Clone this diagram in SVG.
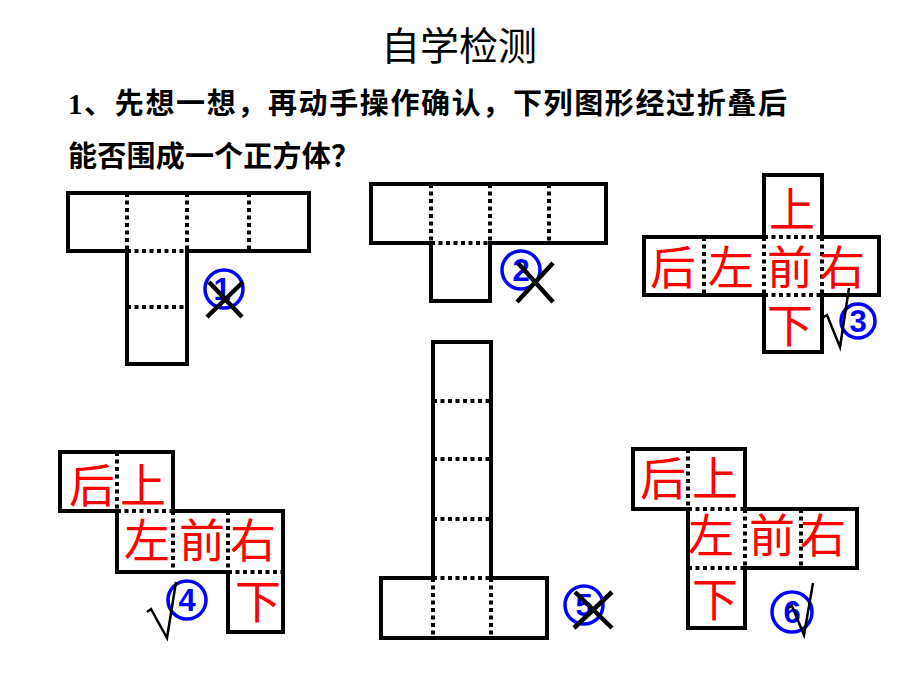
<svg xmlns="http://www.w3.org/2000/svg" width="920" height="690" viewBox="0 0 920 690">
<style>
.o{fill:none;stroke:#000;stroke-width:4;stroke-linejoin:miter}
.d{fill:none;stroke:#000;stroke-width:4;stroke-dasharray:4 3.5}
.f{font-family:"Noto Sans CJK SC","Noto Sans",sans-serif;font-size:46px;fill:#FF0000;text-anchor:middle}
.c{fill:none;stroke:#0000FF;stroke-width:3.5}
.n{font-family:"Liberation Sans","Noto Sans",sans-serif;font-weight:bold;font-size:31px;fill:#0000FF;text-anchor:middle}
.x{stroke:#000;stroke-width:4.5;stroke-linecap:butt}
.v{fill:none;stroke:#000;stroke-width:2.5;stroke-linejoin:miter}
</style>
<rect width="920" height="690" fill="#fff"/>
<g id="title">
<text x="459" y="60" font-family="Noto Sans CJK SC,sans-serif" font-size="39" text-anchor="middle" fill="#000">自学检测</text>
</g>
<g id="question">
<text x="68" y="114" font-family="Noto Sans CJK SC,sans-serif" font-weight="bold" font-size="29" fill="#000" textLength="719" lengthAdjust="spacing"><tspan font-family="Liberation Serif,serif">1</tspan>、先想一想，再动手操作确认，下列图形经过折叠后</text>
<text x="68" y="167" font-family="Noto Sans CJK SC,sans-serif" font-weight="bold" font-size="29" fill="#000" textLength="292" lengthAdjust="spacing">能否围成一个正方体？</text>
</g>
<g id="net1">
<path class="o" d="M68,193H309V251H187V364H127V251H68Z"/>
<path class="d" d="M127,193V251M187,193V251M249,193V251M127,251H187M127,307H187"/>
<circle class="c" cx="224" cy="289" r="19"/>
<text class="n" x="222" y="300">1</text>
<path class="x" d="M209,282L242,317M243,282L207,317"/>
</g>
<g id="net2">
<path class="o" d="M371,184H606V243H490V301H431V243H371Z"/>
<path class="d" d="M431,184V243M490,184V243M549,184V243M431,243H490"/>
<circle class="c" cx="521" cy="270" r="19"/>
<text class="n" x="521" y="281">2</text>
<path class="x" d="M518,263L553,302M553,263L517,302"/>
</g>
<g id="net3">
<path class="o" d="M764,175H822V237H879V295H822V352H764V295H644V237H764Z"/>
<path class="d" d="M704,237V295M764,237V295M822,237V295M764,237H822M764,295H822"/>
<text class="f" x="673" y="284">后</text>
<text class="f" x="731" y="284">左</text>
<text class="f" x="790" y="284">前</text>
<text class="f" x="842" y="284">右</text>
<text class="f" x="792" y="226">上</text>
<text class="f" x="790" y="342">下</text>
<circle class="c" cx="858" cy="321" r="17"/>
<text class="n" x="858" y="332">3</text>
<path class="v" d="M822,318L827,315L840,347L849,288"/>
</g>
<g id="net4">
<path class="o" d="M60,452H173V511H283V632H228V572H117V511H60Z"/>
<path class="d" d="M117,452V511M117,511H173M173,511V572M228,511V572M228,572H283"/>
<text class="f" x="92" y="502">后</text>
<text class="f" x="143" y="502">上</text>
<text class="f" x="147" y="557">左</text>
<text class="f" x="202" y="557">前</text>
<text class="f" x="253" y="557">右</text>
<text class="f" x="258" y="618">下</text>
<circle class="c" cx="187" cy="600" r="19"/>
<text class="n" x="187" y="611">4</text>
<path class="v" d="M147,612L151,609L167,638L176,582"/>
</g>
<g id="net5">
<path class="o" d="M433,342H491V578H547V638H381V578H433Z"/>
<path class="d" d="M433,401H491M433,459H491M433,519H491M433,578H491M433,578V638M491,578V638"/>
<circle class="c" cx="584" cy="605" r="19"/>
<text class="n" x="584" y="616">5</text>
<path class="x" d="M575,592L612,628M612,592L574,628"/>
</g>
<g id="net6">
<path class="o" d="M633,449H745V509H857V568H745V628H688V509H633Z"/>
<path class="d" d="M688,449V509M688,509H745M745,509V568M801,509V568M688,568H745"/>
<text class="f" x="663" y="495">后</text>
<text class="f" x="715" y="495">上</text>
<text class="f" x="711" y="552">左</text>
<text class="f" x="772" y="552">前</text>
<text class="f" x="823" y="552">右</text>
<text class="f" x="715" y="616">下</text>
<circle class="c" cx="792" cy="612" r="20"/>
<text class="n" x="792" y="623">6</text>
<path class="v" d="M788,608L792,606L804,635L813,583"/>
</g>
</svg>
